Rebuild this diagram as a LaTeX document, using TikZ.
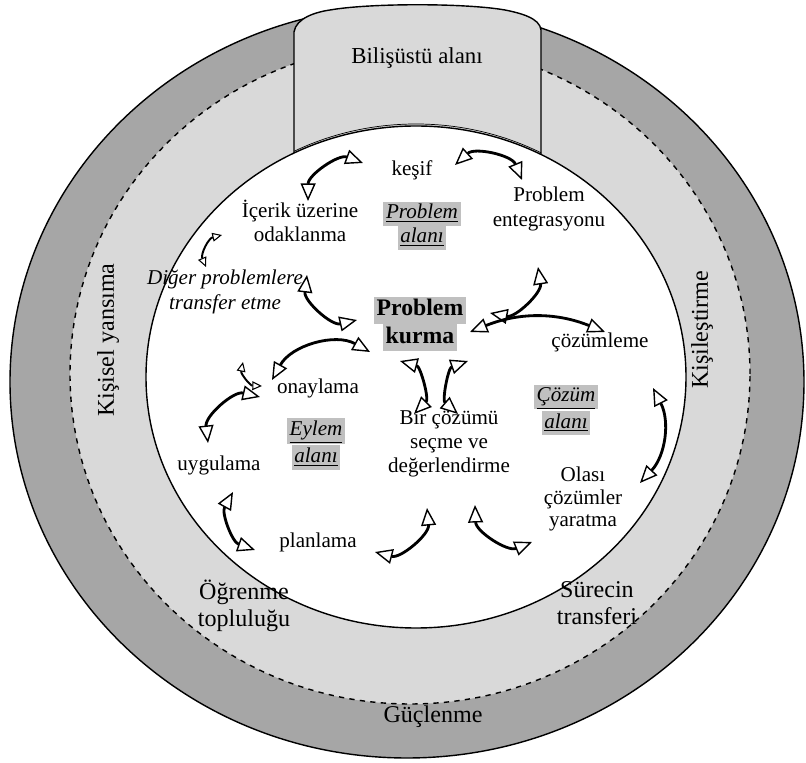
\documentclass[tikz,border=0pt]{standalone}
\usepackage{fontspec}
\setmainfont{Liberation Serif}
\usetikzlibrary{arrows.meta}
\definecolor{ringdark}{HTML}{A6A6A6}
\definecolor{ringlight}{HTML}{D9D9D9}
\definecolor{hlgray}{HTML}{C0C0C0}
\newcommand{\hlbox}[1]{{\setlength{\fboxsep}{0pt}\colorbox{hlgray}{\hspace{1.5pt}\strut #1\hspace{1.5pt}}}}
\begin{document}
\begin{tikzpicture}[x=0.02cm, y=0.02cm,
    >={Triangle[fill=white,length=10pt,width=8.5pt,line width=0.8pt]},
    cyc/.style={<->, line width=1.6pt},
    smallcyc/.style={line width=1.1pt,
      arrows={Triangle[fill=white,length=5.5pt,width=5pt,line width=0.6pt]-Triangle[fill=white,length=5.5pt,width=5pt,line width=0.6pt]}},
    lbl/.style={font=\fontsize{12}{13.8}\selectfont, align=center, inner sep=0pt},
    ring/.style={font=\fontsize{13.7}{15.3}\selectfont, align=center, inner sep=0pt}]
  \useasboundingbox (0,0) rectangle (806,-763);

  % Rings
  \draw [line width=0.8pt, fill=ringdark] (407,-382) ellipse [x radius=397, y radius=376];
  \draw [line width=0.8pt, dashed, fill=ringlight] (410,-374) ellipse [x radius=340, y radius=330];

  % Bilisustu band on top
  \draw [line width=0.8pt, fill=ringlight] (294,-160) -- (294,-32)
    .. controls (296,-18) and (316,-12) .. (330,-10)
    .. controls (370,-3) and (465,-3) .. (505,-10)
    .. controls (520,-13) and (540,-18) .. (541,-30) -- (541,-160) -- cycle;

  % Inner area
  \draw [line width=0.8pt, fill=white] (416,-377) ellipse [x radius=270, y radius=251];
  \begin{scope}
    \clip (294,0) rectangle (541,-200);
    \draw [line width=0.4pt] (416,-374) ellipse [x radius=268, y radius=250];
  \end{scope}

  % Ring labels
  \node [ring, font=\fontsize{13}{15}\selectfont] (bilis) at (417,-58) {Bilişüstü alanı};
  \node [ring, rotate=90] (kisisel) at (108,-340) {Kişisel yansıma};
  \node [ring, rotate=90] (kisilest) at (702,-330) {Kişileştirme};
  \node [ring] (ogrenme) at (244,-606) {Öğrenme\\topluluğu};
  \node [ring] (surec) at (597,-603) {Sürecin\\transferi};
  \node [ring] (guc) at (433,-717) {Güçlenme};

  % Inner labels
  \node [lbl] (kesif) at (412,-170) {keşif};
  \node [lbl] (icerik) at (300,-221) {İçerik üzerine\\odaklanma};
  \node [lbl] (palan) at (422,-226) {\hlbox{\underline{\textit{Problem}}}\\\hlbox{\underline{\textit{alanı}}}};
  \node [lbl] (entegr) at (549,-209) {Problem\\entegrasyonu};
  \node [lbl, font=\fontsize{12}{13.8}\selectfont\itshape] (diger) at (225,-292) {Diğer problemlere\\transfer etme};
  \node [lbl, font=\fontsize{13.5}{15.5}\selectfont\bfseries] (pkurma) at (420,-324) {\hlbox{Problem}\\\hlbox{kurma}};
  \node [lbl] (cozum) at (600,-342) {çözümleme};
  \node [lbl] (onay) at (318,-388) {onaylama};
  \node [lbl] (calan) at (566,-410) {\hlbox{\underline{\textit{Çözüm}}}\\\hlbox{\underline{\textit{alanı}}}};
  \node [lbl] (ealan) at (316,-444) {\hlbox{\underline{\textit{Eylem}}}\\\hlbox{\underline{\textit{alanı}}}};
  \node [lbl] (bircoz) at (449,-444) {Bir çözümü\\seçme ve\\değerlendirme};
  \node [lbl] (uygul) at (219,-465) {uygulama};
  \node [lbl, font=\fontsize{12}{12.6}\selectfont] (olasi) at (583,-499) {Olası\\çözümler\\yaratma};
  \node [lbl] (plan) at (318,-542) {planlama};

  % Arrow ends
  \coordinate (kesifW) at (363,-163);  \coordinate (icerikN) at (308,-201);
  \coordinate (kesifE) at (455,-165);  \coordinate (entegrN) at (522,-180);
  \coordinate (icerikW) at (222,-235); \coordinate (digerN) at (206,-267);
  \coordinate (digerE) at (307,-275);  \coordinate (pkurmaW) at (357,-320);
  \coordinate (entegrS) at (538,-267); \coordinate (pkurmaNE) at (490,-313);
  \coordinate (pkurmaE) at (470,-332); \coordinate (cozumW) at (605,-332);
  \coordinate (onayW) at (272,-380);   \coordinate (pkurmaSW) at (370,-352);
  \coordinate (onayNW) at (243,-362);  \coordinate (onayN) at (262,-386);
  \coordinate (onayS) at (260,-397);   \coordinate (uygulN) at (208,-443);
  \coordinate (uygulS) at (233,-492);  \coordinate (planW) at (255,-550);
  \coordinate (planE) at (375,-552);   \coordinate (bircozSW) at (427,-508);
  \coordinate (bircozSE) at (475,-505); \coordinate (olasiW) at (532,-542);
  \coordinate (cozumS) at (653,-388);  \coordinate (olasiN) at (640,-483);
  \coordinate (pkurmaS1) at (400,-361); \coordinate (bircozN1) at (414,-414);
  \coordinate (pkurmaS2) at (468,-361); \coordinate (bircozN2) at (458,-414);

  % Arrows
  \draw [cyc] (kesifW) to[bend right=55] (icerikN);
  \draw [cyc] (kesifE) to[bend left=55] (entegrN);
  \draw [smallcyc] (icerikW) to[bend right=50] (digerN);
  \draw [cyc] (digerE) to[bend right=55] (pkurmaW);
  \draw [cyc] (entegrS) to[bend left=55] (pkurmaNE);
  \draw [cyc] (pkurmaE) to[bend left=22] (cozumW);
  \draw [cyc] (onayW) to[bend left=45] (pkurmaSW);
  \draw [smallcyc] (onayNW) to[bend right=50] (onayN);
  \draw [cyc] (onayS) to[bend right=55] (uygulN);
  \draw [cyc] (uygulS) to[bend right=50] (planW);
  \draw [cyc] (planE) to[bend right=55] (bircozSW);
  \draw [cyc] (bircozSE) to[bend right=55] (olasiW);
  \draw [cyc] (cozumS) to[bend left=35] (olasiN);
  \draw [cyc] (pkurmaS1) to[bend left=60] (bircozN1);
  \draw [cyc] (pkurmaS2) to[bend right=60] (bircozN2);
\end{tikzpicture}
\end{document}
